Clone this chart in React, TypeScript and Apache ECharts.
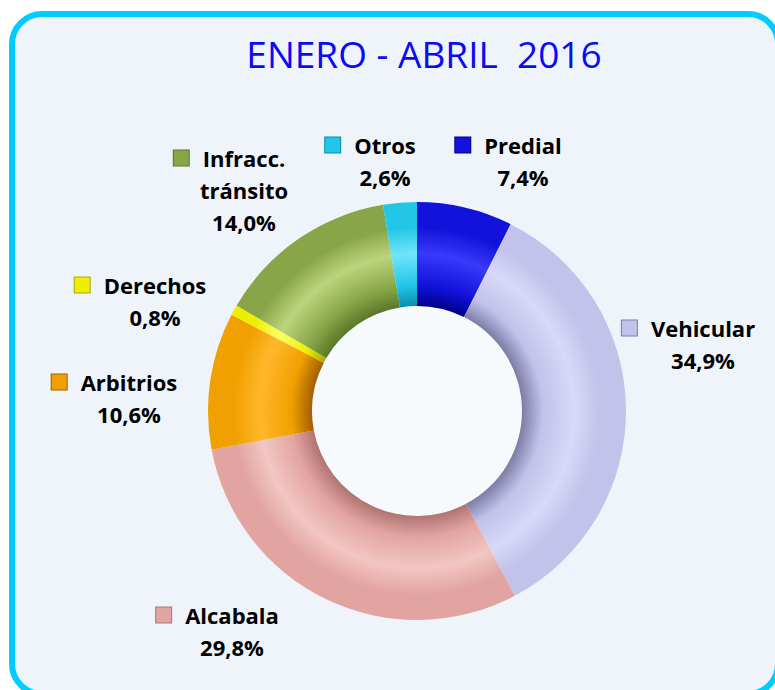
import React, { useEffect, useRef } from "react";
import * as echarts from "echarts";

const TITLE = "ENERO - ABRIL  2016";
const CATEGORIES = ["Predial", "Vehicular", "Alcabala", "Arbitrios", "Derechos", "Infracc. tránsito", "Otros"];
const VALUES = [7.4, 34.9, 29.8, 10.6, 0.8, 14.0, 2.6];

// styling: [mid, light, dark]
const COLORS: string[][] = [
  ["#1212DC", "#3A3AFA", "#00008C"],
  ["#C2C2EA", "#D8D8F8", "#7C7CA4"],
  ["#E2A4A0", "#F2C6C2", "#B07472"],
  ["#F0A000", "#FFB82A", "#A45E00"],
  ["#EEEE00", "#FFFF66", "#AAAA00"],
  ["#88A648", "#BCD47C", "#5A7828"],
  ["#22C6E6", "#70E4FC", "#0A8EAE"],
];
// label block centres (layout)
const LABEL_POS: number[][] = [
  [523, 161],
  [703, 344],
  [232, 631],
  [129, 398],
  [155, 301],
  [244, 190],
  [385, 161],
];

const CX = 417;
const CY = 411;
const R_IN = 105;
const R_OUT = 209;

export default function App() {
  const ref = useRef<HTMLDivElement>(null);
  useEffect(() => {
    if (!ref.current) return;
    const chart = echarts.init(ref.current, null, { renderer: "svg" });
    const fontFamily = "'Open Sans', 'Noto Sans', sans-serif";
    const inner = R_IN / R_OUT;
    const data = CATEGORIES.map((name, i) => {
      const [mid, light, dark] = COLORS[i];
      return {
        name,
        value: VALUES[i],
        itemStyle: {
          color: {
            type: "radial",
            x: CX,
            y: CY,
            r: R_OUT,
            global: true,
            colorStops: [
              { offset: 0, color: dark },
              { offset: inner, color: dark },
              { offset: inner + 0.1, color: mid },
              { offset: inner + 0.25, color: light },
              { offset: 0.88, color: mid },
              { offset: 1, color: mid },
            ],
          },
        },
        label: {
          rich: {
            m: {
              width: 15,
              height: 15,
              backgroundColor: mid,
              borderColor: dark,
              borderWidth: 1,
            },
          },
        },
      };
    });

    const fmtPct = (v: number) => v.toFixed(1).replace(".", ",") + "%";

    chart.setOption({
      animation: false,
      backgroundColor: "#ffffff",
      graphic: [
        {
          type: "rect",
          z: -10,
          shape: { x: 12, y: 14, width: 766, height: 680, r: 30 },
          style: { fill: "#EEF4F9", stroke: "#00CCFF", lineWidth: 6 },
        },
        {
          type: "circle",
          z: -5,
          shape: { cx: CX, cy: CY, r: R_IN },
          style: { fill: "#F7FAFC" },
        },
        {
          type: "text",
          z: 10,
          x: 424,
          y: 53,
          style: {
            text: TITLE,
            fill: "#0A0AF5",
            font: "37px 'Open Sans', 'Noto Sans', sans-serif",
            textAlign: "center",
            textVerticalAlign: "middle",
          },
        },
      ],
      series: [
        {
          type: "pie",
          center: [CX, CY],
          radius: [R_IN, R_OUT],
          startAngle: 90,
          clockwise: true,
          avoidLabelOverlap: false,
          itemStyle: { borderWidth: 0 },
          emphasis: { disabled: true },
          labelLine: { show: false },
          label: {
            show: true,
            position: "outside",
            align: "center",
            formatter: (p: any) => {
              const parts = String(p.name).split(" ");
              const first = parts[0];
              const rest = parts.slice(1);
              let s = `{m|}{g|}{n|${first}}{r|}`;
              rest.forEach((w) => {
                s += `\n{n|${w}}`;
              });
              s += `\n{n|${fmtPct(p.value)}}`;
              return s;
            },
            rich: {
              n: {
                fontFamily,
                fontWeight: "bold",
                fontSize: 22,
                lineHeight: 32,
                color: "#000000",
              },
              g: { width: 14, height: 15 },
              r: { width: 29, height: 15 },
            },
          },
          labelLayout: (params: any) => {
            const pos = LABEL_POS[params.dataIndex];
            return { x: pos[0], y: pos[1], align: "center", verticalAlign: "middle", hideOverlap: false };
          },
          data,
        },
      ],
    });
    return () => chart.dispose();
  }, []);
  return (
    <div
      ref={ref}
      style={{ position: "fixed", left: 0, top: 0, width: 775, height: 690 }}
    />
  );
}
